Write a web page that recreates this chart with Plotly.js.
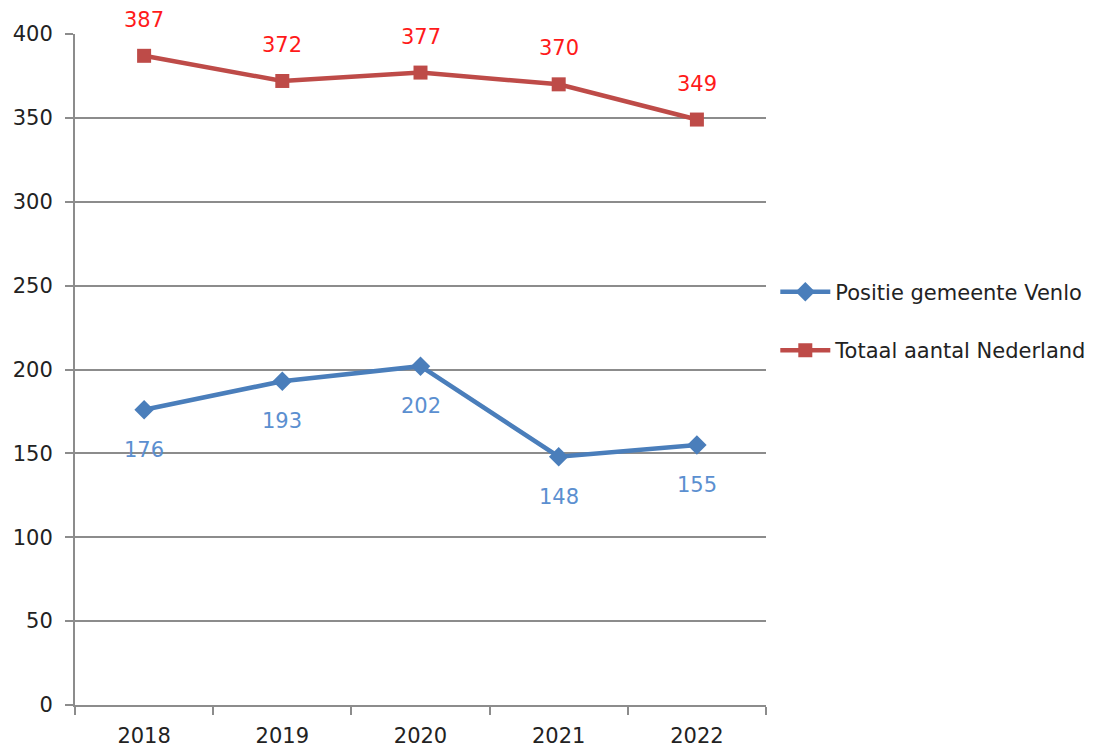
<!DOCTYPE html>
<html><head><meta charset="utf-8">
<script src="https://cdn.plot.ly/plotly-3.0.1.min.js"></script>
<style>html,body{margin:0;padding:0;background:#fff}</style>
</head><body>
<div id="chart" style="width:1103px;height:753px"></div>
<script>
const years = ['2018', '2019', '2020', '2021', '2022'];
const venlo = [176, 193, 202, 148, 155];
const nederland = [387, 372, 377, 370, 349];
const venloName = 'Positie gemeente Venlo';
const nlName = 'Totaal aantal Nederland';

const fontFam = '"DejaVu Sans", Verdana, sans-serif';

const traces = [
  {x: years, y: venlo, name: venloName, type: 'scatter', mode: 'lines+markers',
   line: {color: '#4A7EBB', width: 4.5}, marker: {symbol: 'diamond', size: 15, color: '#4A7EBB'},
   legendgroup: 'a'},
  {x: years, y: nederland, name: nlName, type: 'scatter', mode: 'lines+markers',
   line: {color: '#BE4B48', width: 4.5}, marker: {symbol: 'square', size: 14, color: '#BE4B48'},
   legendgroup: 'b'}
];

const annotations = [];
years.forEach((yr, i) => {
  annotations.push({x: i, y: venlo[i], text: String(venlo[i]), showarrow: false, yshift: -40,
    font: {family: fontFam, size: 21, color: '#5B8FD0'}});
  annotations.push({x: i, y: nederland[i], text: String(nederland[i]), showarrow: false, yshift: 36,
    font: {family: fontFam, size: 21, color: '#FF1A1A'}});
});

const layout = {
  width: 1103, height: 753,
  margin: {l: 75, r: 336, t: 34, b: 48},
  paper_bgcolor: '#fff', plot_bgcolor: '#fff',
  font: {family: fontFam, size: 21, color: '#222'},
  showlegend: true,
  legend: {x: 1.012, xanchor: 'left', y: 0.572, yanchor: 'middle', traceorder: 'grouped',
    tracegroupgap: 28, itemwidth: 50, font: {family: fontFam, size: 21, color: '#222'}, bgcolor: 'rgba(0,0,0,0)'},
  xaxis: {type: 'category', range: [-0.5, years.length - 0.5], autorange: false,
    showgrid: false, showline: true, linecolor: '#8C8C8C', linewidth: 2,
    ticks: 'outside', ticklen: 8, tickcolor: '#8C8C8C', tickwidth: 2, tickson: 'boundaries',
    ticklabelstandoff: 11, tickangle: 0, tickfont: {family: fontFam, size: 21, color: '#222'}, fixedrange: true},
  yaxis: {range: [0, 400], autorange: false, dtick: 50, showgrid: true, gridcolor: '#8C8C8C', gridwidth: 2,
    showline: true, linecolor: '#8C8C8C', linewidth: 2, ticks: 'outside', ticklen: 8,
    tickcolor: '#8C8C8C', tickwidth: 2, zeroline: false, ticklabelstandoff: 8,
    tickfont: {family: fontFam, size: 21, color: '#222'}, fixedrange: true},
  annotations: annotations
};

Plotly.newPlot('chart', traces, layout, {displayModeBar: false, staticPlot: true});
</script>
</body></html>
